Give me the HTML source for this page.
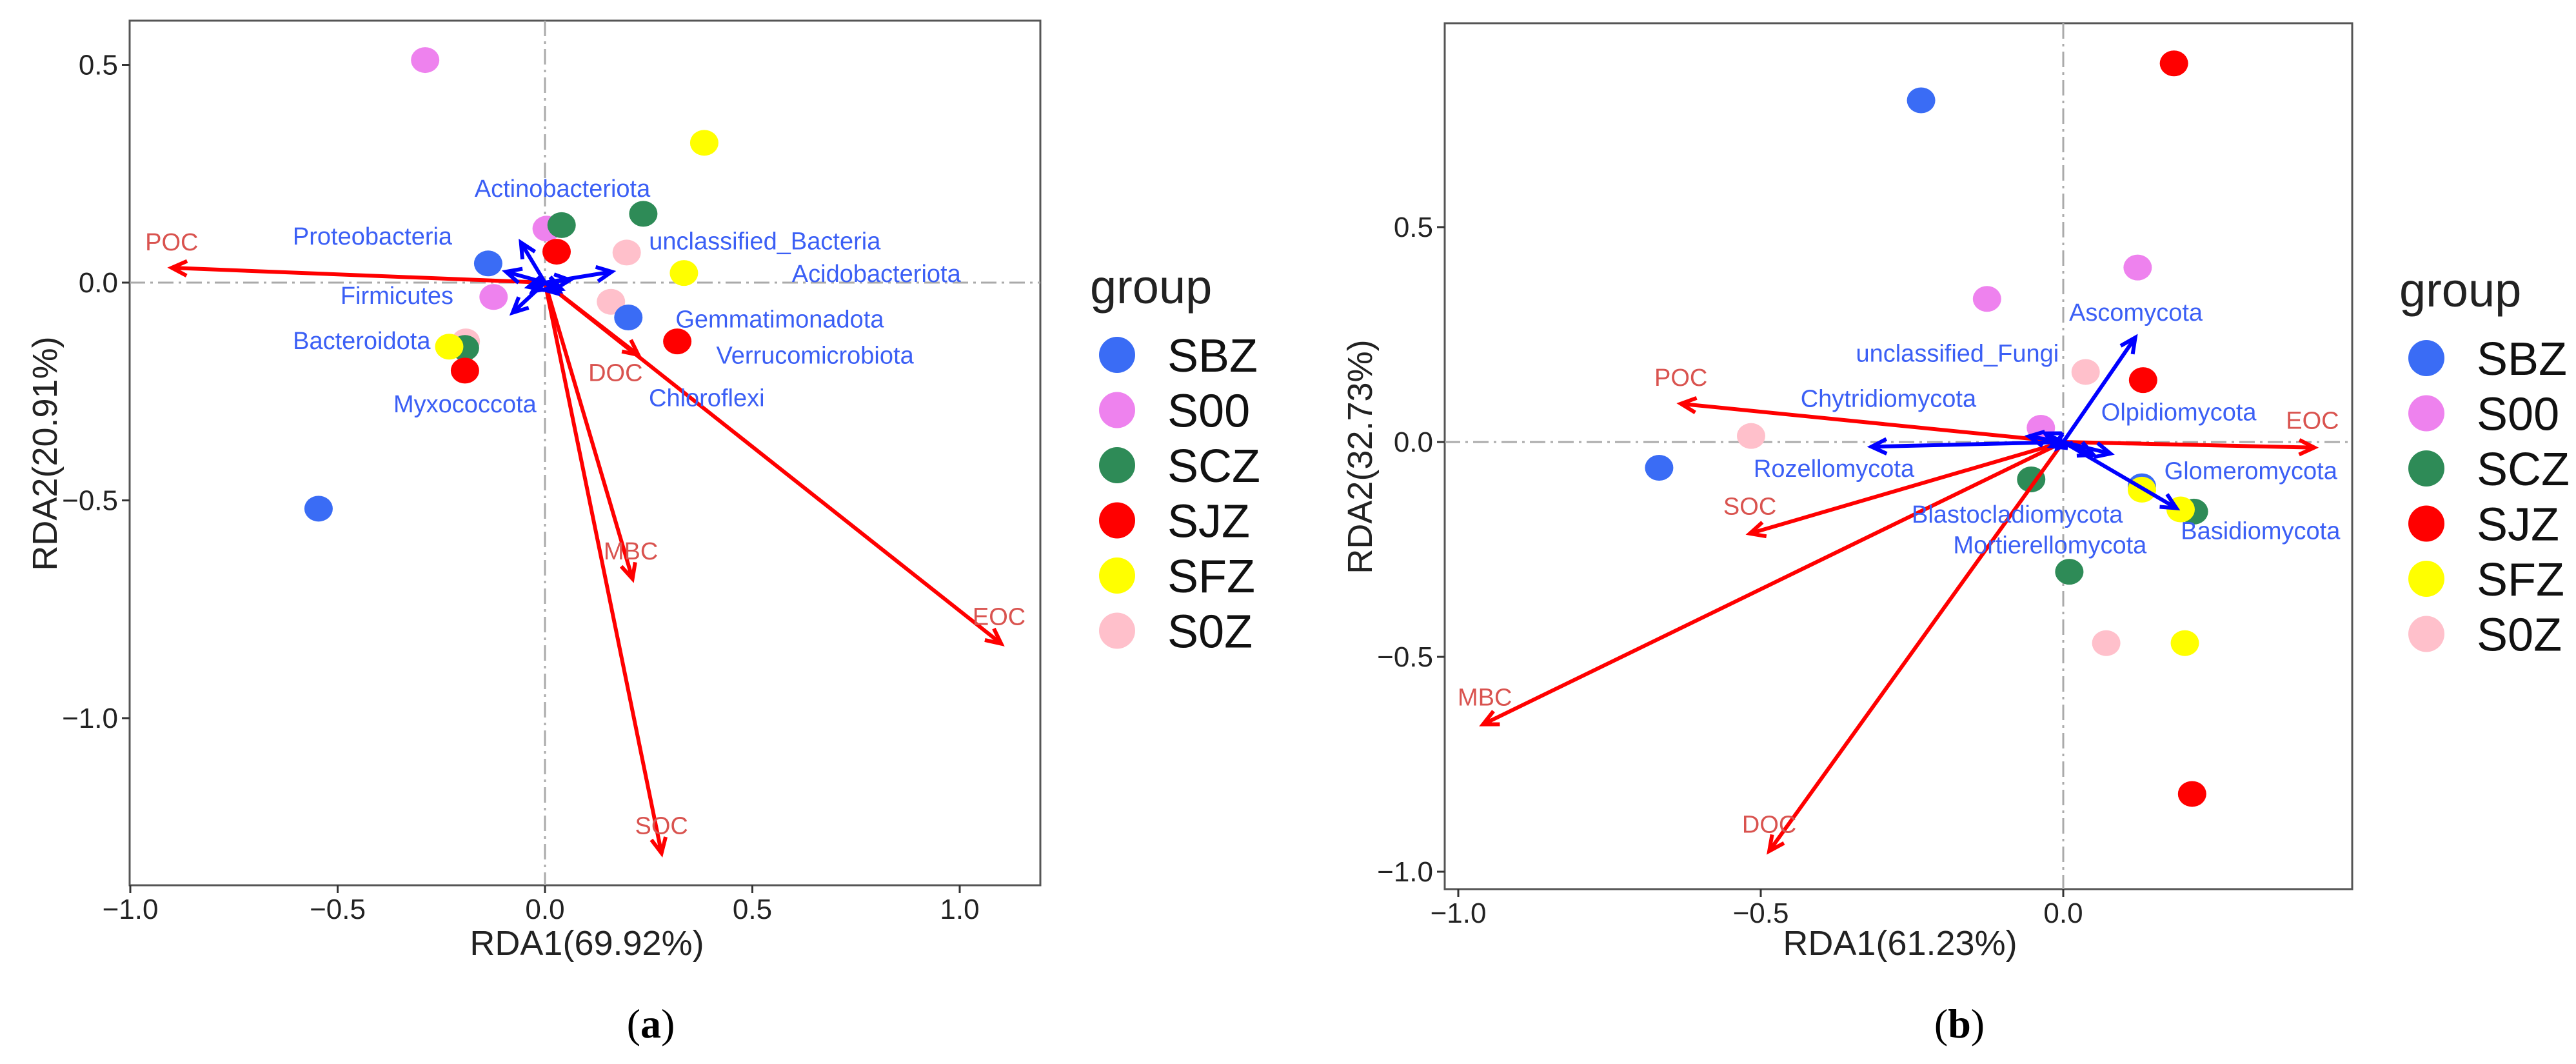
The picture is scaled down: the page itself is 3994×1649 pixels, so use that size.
<!DOCTYPE html>
<html><head><meta charset="utf-8"><style>
html,body{margin:0;padding:0;background:#fff;}
svg{display:block;font-family:"Liberation Sans",sans-serif;}
</style></head><body>
<svg id="fig" width="3994" height="1649" viewBox="0 0 3994 1649" xmlns="http://www.w3.org/2000/svg">
<rect width="3994" height="1649" fill="#fff"/>
</svg>
<script>
// ---------- data: panel a ----------
const groups = ["SBZ","S00","SCZ","SJZ","SFZ","S0Z"];
const groupColors = ["#3a6cf5","#ee82ee","#2e8b57","#ff0000","#ffff00","#ffc0cb"];
const aSampleGroup = ["S00","SFZ","SCZ","S00","SCZ","SJZ","S0Z","SBZ","SFZ","S00","S0Z","SBZ","SJZ","S0Z","SCZ","SFZ","SJZ","SBZ"];
const aSampleX = [-0.289,0.384,0.237,0.004,0.040,0.028,0.197,-0.137,0.335,-0.124,0.159,0.201,0.319,-0.191,-0.193,-0.231,-0.193,-0.546];
const aSampleY = [0.511,0.321,0.158,0.124,0.132,0.071,0.069,0.044,0.022,-0.033,-0.044,-0.080,-0.135,-0.135,-0.150,-0.147,-0.202,-0.519];
const aEnvNames = ["POC","DOC","MBC","EOC","SOC"];
const aEnvX = [-0.900,0.225,0.211,1.100,0.281];
const aEnvY = [0.034,-0.166,-0.680,-0.829,-1.310];
const aEnvLabelX = [-0.900,0.170,0.207,1.095,0.281];
const aEnvLabelY = [0.095,-0.205,-0.615,-0.765,-1.245];
const aTaxaNames = ["Actinobacteriota","Proteobacteria","Firmicutes","unclassified_Bacteria","Acidobacteriota","Gemmatimonadota","Verrucomicrobiota","Chloroflexi","Bacteroidota","Myxococcota"];
const aTaxaX = [-0.058,-0.094,-0.078,0.161,0.060,0.040,0.035,0.030,-0.040,-0.030];
const aTaxaY = [0.092,0.025,-0.069,0.025,0.006,-0.015,-0.020,-0.025,-0.010,-0.020];
const aTaxaLabelX = [0.042,-0.416,-0.357,0.530,0.799,0.566,0.651,0.390,-0.442,-0.193];
const aTaxaLabelY = [0.218,0.108,-0.028,0.097,0.022,-0.082,-0.165,-0.263,-0.132,-0.277];
const aXTicks = [-1.0,-0.5,0.0,0.5,1.0];
const aYTicks = [0.5,0.0,-0.5,-1.0];
// ---------- data: panel b ----------
const bSampleGroup = ["SJZ","SBZ","S00","S00","S0Z","SJZ","S00","S0Z","SBZ","SCZ","SBZ","SFZ","SCZ","SFZ","SCZ","S0Z","SFZ","SJZ"];
const bSampleX = [0.183,-0.235,0.123,-0.126,0.037,0.132,-0.037,-0.516,-0.668,-0.053,0.130,0.130,0.216,0.194,0.010,0.071,0.201,0.213];
const bSampleY = [0.881,0.795,0.406,0.333,0.163,0.144,0.033,0.014,-0.060,-0.087,-0.103,-0.111,-0.162,-0.157,-0.302,-0.468,-0.468,-0.819];
const bEnvNames = ["POC","EOC","SOC","MBC","DOC"];
const bEnvX = [-0.632,0.415,-0.518,-0.959,-0.486];
const bEnvY = [0.089,-0.013,-0.213,-0.657,-0.952];
const bEnvLabelX = [-0.632,0.412,-0.518,-0.956,-0.486];
const bEnvLabelY = [0.152,0.052,-0.148,-0.592,-0.888];
const bTaxaNames = ["Ascomycota","unclassified_Fungi","Chytridiomycota","Rozellomycota","Olpidiomycota","Glomeromycota","Basidiomycota","Blastocladiomycota","Mortierellomycota"];
const bTaxaX = [0.119,-0.030,-0.057,-0.317,0.078,0.050,0.187,-0.020,-0.010];
const bTaxaY = [0.243,0.020,0.013,-0.011,-0.027,-0.030,-0.154,-0.010,-0.015];
const bTaxaLabelX = [0.120,-0.175,-0.289,-0.379,0.191,0.310,0.326,-0.076,-0.022];
const bTaxaLabelY = [0.303,0.208,0.103,-0.060,0.071,-0.065,-0.205,-0.167,-0.238];
const bXTicks = [-1.0,-0.5,0.0];
const bYTicks = [0.5,0.0,-0.5,-1.0];

const NS = "http://www.w3.org/2000/svg";
const svg = document.getElementById("fig");
function mk(tag, attrs, parent){
  const e = document.createElementNS(NS, tag);
  for (const k in attrs) e.setAttribute(k, attrs[k]);
  (parent||svg).appendChild(e);
  return e;
}
function fmt(v){ const s = Math.abs(v).toFixed(1); return (v<0?"\u2212":"")+s; }

function arrow(g, x0,y0,x1,y1,color,w,name){
  const line = mk("line",{x1:x0,y1:y0,x2:x1,y2:y1,stroke:color,"stroke-width":w},g);
  
  
  const ang = Math.atan2(y1-y0,x1-x0), L=26, sp=0.45;
  const p = mk("polyline",{points:`${x1-L*Math.cos(ang-sp)},${y1-L*Math.sin(ang-sp)} ${x1},${y1} ${x1-L*Math.cos(ang+sp)},${y1-L*Math.sin(ang+sp)}`,fill:"none",stroke:color,"stroke-width":w,"stroke-linejoin":"miter"},g);
  
  
}

function panel(cfg){
  const g = mk("g",{});
  
  
  const X = v => cfg.x0 + v*cfg.xu;
  const Y = v => cfg.y0 - v*cfg.yu;
  // box
  const box = mk("rect",{x:cfg.L,y:cfg.T,width:cfg.R-cfg.L,height:cfg.B-cfg.T,fill:"#fff",stroke:"#555","stroke-width":3},g);
  
  
  // reference lines
  const vl = mk("line",{x1:X(0),y1:cfg.T,x2:X(0),y2:cfg.B,stroke:"#aaa","stroke-width":3,"stroke-dasharray":"24 8 4 8"},g);
  
  
  const hl = mk("line",{x1:cfg.L,y1:Y(0),x2:cfg.R,y2:Y(0),stroke:"#aaa","stroke-width":3,"stroke-dasharray":"24 8 4 8"},g);
  
  
  // ticks
  cfg.xt.forEach(v=>{
    const t = mk("line",{x1:X(v),y1:cfg.B,x2:X(v),y2:cfg.B+12,stroke:"#333","stroke-width":3},g);
    
    
    const tx = mk("text",{x:X(v),y:cfg.B+52,"font-size":44,"text-anchor":"middle",fill:"#222"},g);
    tx.textContent = fmt(v);
    
    
  });
  cfg.yt.forEach(v=>{
    const t = mk("line",{x1:cfg.L-12,y1:Y(v),x2:cfg.L,y2:Y(v),stroke:"#333","stroke-width":3},g);
    
    
    const tx = mk("text",{x:cfg.L-18,y:Y(v)+15,"font-size":44,"text-anchor":"end",fill:"#222"},g);
    tx.textContent = fmt(v);
    
    
  });
  // axis titles
  const xt = mk("text",{x:cfg.xtx,y:1480,"font-size":54,"text-anchor":"middle",fill:"#222"},g);
  xt.textContent = cfg.xTitle;
  
  
  const yt = mk("text",{x:0,y:0,"font-size":54,"text-anchor":"middle",fill:"#222",transform:`translate(${cfg.ytx},${cfg.yty}) rotate(-90)`},g);
  yt.textContent = cfg.yTitle;
  
  
  // samples
  cfg.sg.forEach((grp,i)=>{
    const c = mk("ellipse",{cx:X(cfg.sx[i]),cy:Y(cfg.sy[i]),rx:22,ry:20,fill:groupColors[groups.indexOf(grp)]},g);
    
    
  });
  // env arrows
  cfg.en.forEach((n,i)=>{
    arrow(g, X(0),Y(0),X(cfg.ex[i]),Y(cfg.ey[i]),"#ff0000",6,'env-arrow-'+n.toLowerCase());
    const t = mk("text",{x:X(cfg.elx[i]),y:Y(cfg.ely[i])+14,"font-size":38,"text-anchor":"middle",fill:"#d9534f"},g);
    t.textContent = n;
    
    
  });
  // taxa arrows
  cfg.tn.forEach((n,i)=>{
    arrow(g, X(0),Y(0),X(cfg.tx[i]),Y(cfg.ty[i]),"#0000ff",6,'taxa-arrow');
    const t = mk("text",{x:X(cfg.tlx[i]),y:Y(cfg.tly[i])+14,"font-size":38,"text-anchor":"middle",fill:"#3b5ff5"},g);
    t.textContent = n;
    
    
  });
  // legend
  const lt = mk("text",{x:cfg.lgx,y:cfg.lgy+26,"font-size":74,fill:"#222"},g);
  lt.textContent = "group";
  
  
  groups.forEach((grp,i)=>{
    const cy = cfg.lgy+106+i*85.5;
    const c = mk("ellipse",{cx:cfg.lgx+42,cy:cy,rx:28,ry:28,fill:groupColors[i]},g);
    
    
    const t = mk("text",{x:cfg.lgx+120,y:cy+26,"font-size":72,fill:"#111"},g);
    t.textContent = grp;
    
    
  });
  // caption
  const cap = mk("text",{x:cfg.capx,y:1608,"font-size":64,"text-anchor":"middle",fill:"#000","font-family":"Liberation Serif, serif"},g);
  cap.innerHTML = "";
  cap.appendChild(document.createTextNode("("));
  const b = mk("tspan",{"font-weight":"bold"},cap); b.textContent = cfg.cap;
  cap.appendChild(document.createTextNode(")"));
  
  
}

panel({id:"panel-a",L:201,R:1613,T:32,B:1372,x0:845,xu:643,y0:438,yu:675,
  xt:aXTicks,yt:aYTicks,xTitle:"RDA1(69.92%)",yTitle:"RDA2(20.91%)",xtx:910,ytx:88,yty:703,
  sg:aSampleGroup,sx:aSampleX,sy:aSampleY,en:aEnvNames,ex:aEnvX,ey:aEnvY,elx:aEnvLabelX,ely:aEnvLabelY,
  tn:aTaxaNames,tx:aTaxaX,ty:aTaxaY,tlx:aTaxaLabelX,tly:aTaxaLabelY,lgx:1690,lgy:444,capx:1009,cap:"a"});
panel({id:"panel-b",L:2240,R:3647,T:36,B:1378,x0:3199,xu:938,y0:685,yu:666,
  xt:bXTicks,yt:bYTicks,xTitle:"RDA1(61.23%)",yTitle:"RDA2(32.73%)",xtx:2946,ytx:2127,yty:708,
  sg:bSampleGroup,sx:bSampleX,sy:bSampleY,en:bEnvNames,ex:bEnvX,ey:bEnvY,elx:bEnvLabelX,ely:bEnvLabelY,
  tn:bTaxaNames,tx:bTaxaX,ty:bTaxaY,tlx:bTaxaLabelX,tly:bTaxaLabelY,lgx:3720,lgy:449,capx:3038,cap:"b"});
</script>
</body></html>
